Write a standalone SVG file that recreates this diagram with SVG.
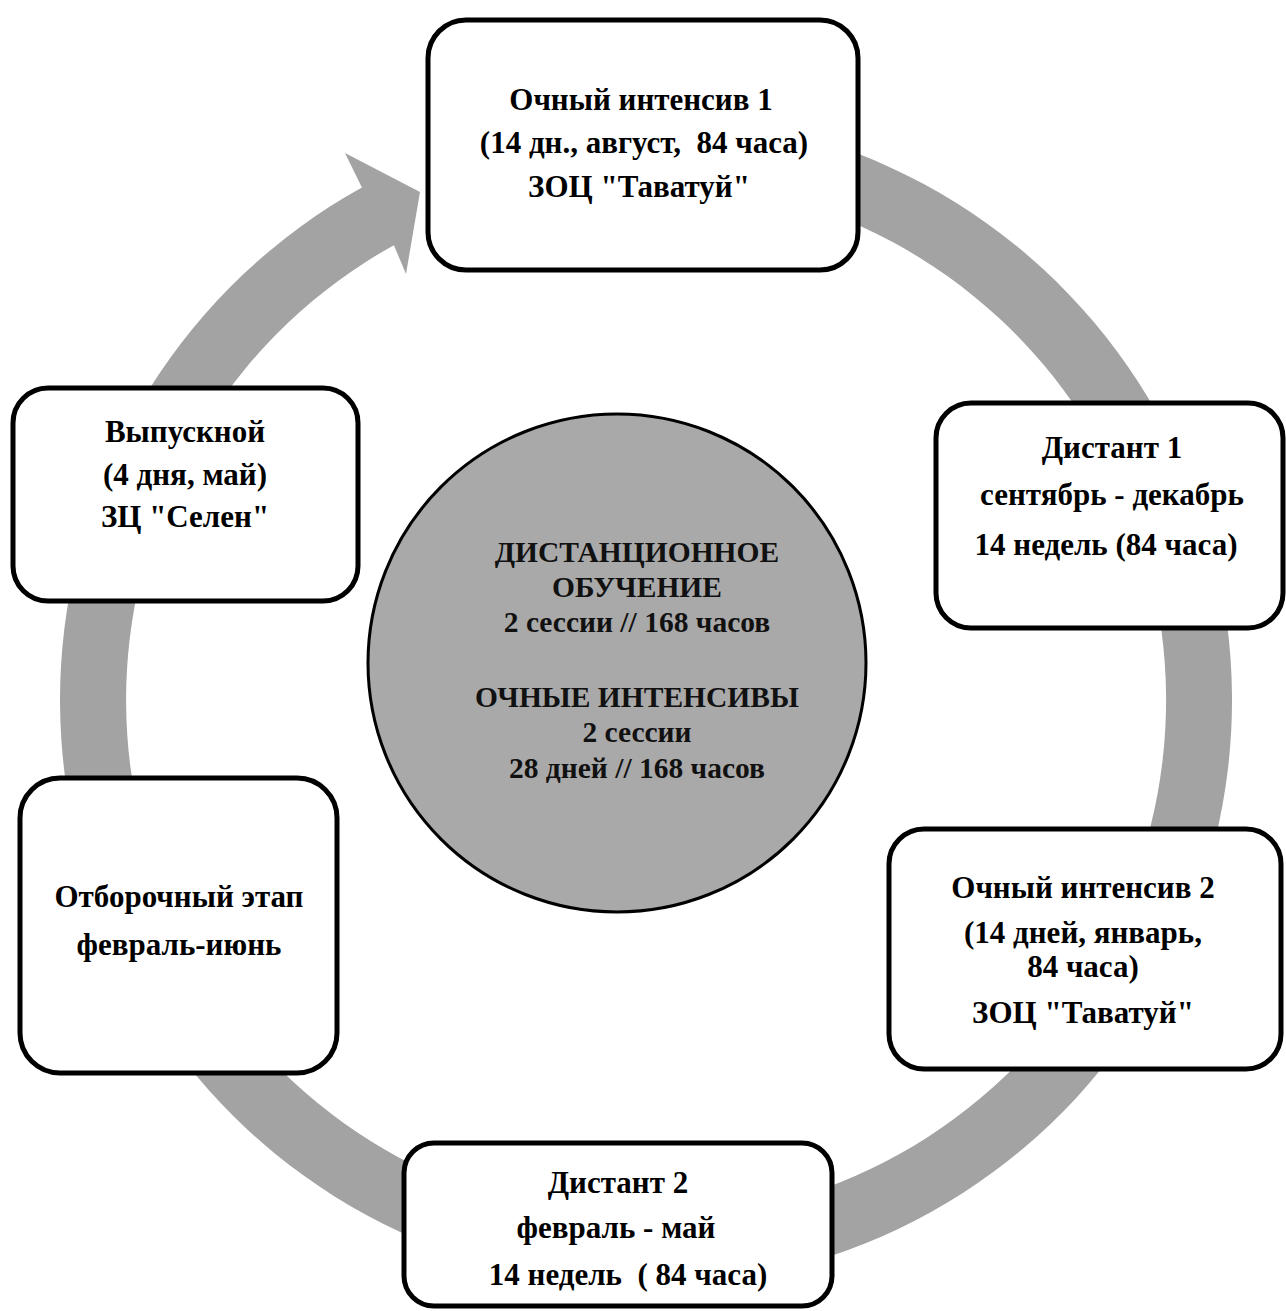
<svg xmlns="http://www.w3.org/2000/svg" width="1286" height="1311" viewBox="0 0 1286 1311">
<style>
.box{fill:#ffffff;stroke:#000000;stroke-width:5}
.t{font-family:"Liberation Serif","Times New Roman",serif;font-weight:bold;font-size:31px;fill:#000000;text-anchor:middle}
.c{font-family:"Liberation Serif","Times New Roman",serif;font-weight:bold;font-size:29.5px;fill:#111111;text-anchor:middle}
</style>
<rect x="0" y="0" width="1286" height="1311" fill="#ffffff"/>
<g id="connectors">
<path id="cycle-arrow" d="M 494.3,134 A 586 586 0 1 1 361.9,187.5 L 345,153 L 420,192 L 406,274 L 393.9,245.2 A 520 520 0 1 0 511.4,197.7 Z" fill="#a3a3a3"/>
</g>
<g id="center">
<circle cx="617" cy="663" r="249" fill="#a9a9a9" stroke="#000000" stroke-width="3"/>
<text class="c" x="637" y="562">ДИСТАНЦИОННОЕ</text>
<text class="c" x="637" y="597">ОБУЧЕНИЕ</text>
<text class="c" x="637" y="632">2 сессии // 168 часов</text>
<text class="c" x="637" y="707">ОЧНЫЕ ИНТЕНСИВЫ</text>
<text class="c" x="637" y="742">2 сессии</text>
<text class="c" x="637" y="778">28 дней // 168 часов</text>
</g>
<g id="node-intensive1">
<rect class="box" x="428" y="20" width="430" height="250" rx="38"/>
<text class="t" x="641" y="110">Очный интенсив 1</text>
<text class="t" x="644" y="153" xml:space="preserve">(14 дн., август,  84 часа)</text>
<text class="t" x="639" y="197">ЗОЦ "Таватуй"</text>
</g>
<g id="node-distant1">
<rect class="box" x="936" y="403" width="347" height="225" rx="35"/>
<text class="t" x="1112" y="458">Дистант 1</text>
<text class="t" x="1112" y="505">сентябрь - декабрь</text>
<text class="t" x="1106" y="555">14 недель (84 часа)</text>
</g>
<g id="node-intensive2">
<rect class="box" x="889" y="829" width="392" height="240" rx="35"/>
<text class="t" x="1083" y="898">Очный интенсив 2</text>
<text class="t" x="1083" y="943">(14 дней, январь,</text>
<text class="t" x="1083" y="977">84 часа)</text>
<text class="t" x="1083" y="1023">ЗОЦ "Таватуй"</text>
</g>
<g id="node-distant2">
<rect class="box" x="404" y="1143" width="428" height="163" rx="30"/>
<text class="t" x="618" y="1193">Дистант 2</text>
<text class="t" x="616" y="1238">февраль - май</text>
<text class="t" x="628" y="1285" xml:space="preserve">14 недель  ( 84 часа)</text>
</g>
<g id="node-selection">
<rect class="box" x="20" y="778" width="317" height="295" rx="40"/>
<text class="t" x="179" y="907">Отборочный этап</text>
<text class="t" x="179" y="955">февраль-июнь</text>
</g>
<g id="node-graduation">
<rect class="box" x="13" y="388" width="345" height="213" rx="35"/>
<text class="t" x="185" y="442">Выпускной</text>
<text class="t" x="185" y="485">(4 дня, май)</text>
<text class="t" x="185" y="527">ЗЦ "Селен"</text>
</g>
</svg>
